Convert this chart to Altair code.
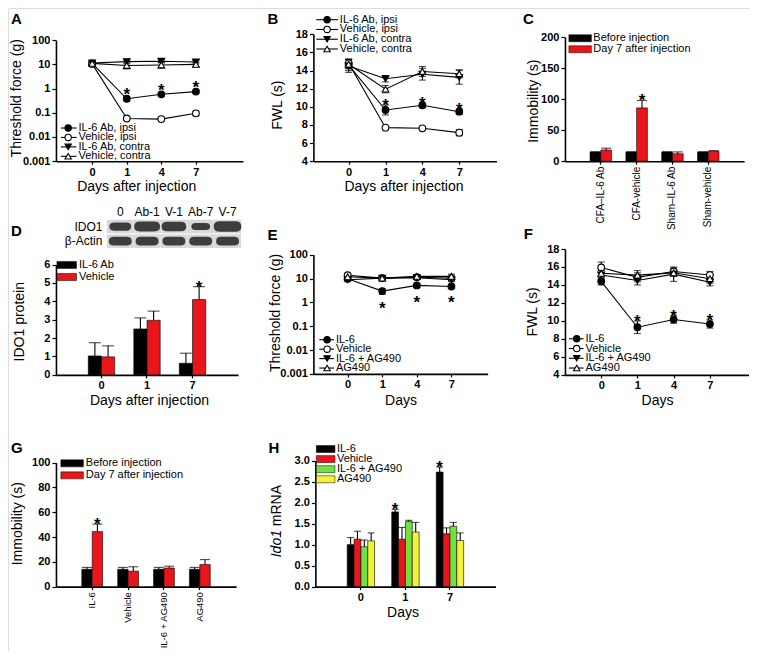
import altair as alt
import pandas as pd

W, H = 741, 643
SX, SY = W / 757, H / 659


def PX(v):
    return v * SX


def PY(v):
    return v * SY


FONT = "Liberation Sans"
RED = "#e8161b"
GREEN = "#72e03e"
YELLOW = "#f3f13c"

# ---------------- data ----------------
line_days = ["0", "1", "4", "7"]
bar_days = ["0", "1", "7"]

# A: threshold force (g), log scale
A_series = ["IL-6 Ab, ipsi", "Vehicle, ipsi", "IL-6 Ab, contra", "Vehicle, contra"]
A_il6_ipsi = [11.0, 0.38, 0.58, 0.75]
A_il6_ipsi_err = [1.5, 0.08, 0.10, 0.12]
A_veh_ipsi = [10.5, 0.058, 0.055, 0.095]
A_veh_ipsi_err = [1.5, 0.004, 0.004, 0.02]
A_il6_contra = [11.5, 13.0, 13.5, 12.5]
A_il6_contra_err = [1.5, 2.5, 2.0, 2.0]
A_veh_contra = [11.0, 9.0, 9.5, 10.0]
A_veh_contra_err = [1.5, 2.5, 2.5, 2.0]
A_sig = [[1, 2, 3], [], [], []]

# B: FWL (s)
B_series = A_series
B_il6_ipsi = [14.6, 9.65, 10.17, 9.46]
B_il6_ipsi_err = [0.6, 0.55, 0.25, 0.3]
B_veh_ipsi = [14.8, 7.7, 7.63, 7.15]
B_veh_ipsi_err = [0.5, 0.15, 0.12, 0.35]
B_il6_contra = [14.5, 13.1, 13.6, 13.25]
B_il6_contra_err = [0.7, 0.35, 0.65, 0.75]
B_veh_contra = [14.7, 11.95, 13.9, 13.65]
B_veh_contra_err = [0.5, 0.4, 0.55, 0.45]
B_sig = [[1, 2, 3], [], [], []]

# C: immobility (s)
C_groups = ["CFA\u2013IL-6 Ab", "CFA-vehicle", "Sham\u2013IL-6 Ab", "Sham-vehicle"]
C_series = ["Before injection", "Day 7 after injection"]
C_before = [15.0, 15.0, 15.0, 15.0]
C_before_err = [0.0, 0.0, 0.0, 0.0]
C_day7 = [18.0, 86.0, 12.0, 16.0]
C_day7_err = [3.0, 12.0, 3.0, 1.0]
C_sig = [[], [1]]

# D: IDO1 protein
D_series = ["IL-6 Ab", "Vehicle"]
D_il6ab = [1.03, 2.5, 0.63]
D_il6ab_err = [0.72, 0.6, 0.55]
D_vehicle = [0.98, 2.97, 4.1]
D_vehicle_err = [0.6, 0.5, 0.7]
D_sig = [[], [2]]
blot_lanes = ["0", "Ab-1", "V-1", "Ab-7", "V-7"]
blot_rows = ["IDO1", "\u03b2-Actin"]
blot_ido1 = [0.75, 1.05, 0.95, 0.55, 1.2]
blot_actin = [0.82, 0.82, 0.82, 0.82, 0.82]

# E: threshold force (g), log scale
E_series = ["IL-6", "Vehicle", "IL-6 + AG490", "AG490"]
E_il6 = [10.0, 3.0, 5.2, 4.7]
E_il6_err = [1.5, 0.8, 1.0, 0.8]
E_vehicle = [14.0, 10.5, 11.5, 10.5]
E_vehicle_err = [2.0, 1.5, 1.5, 1.5]
E_il6ag = [9.0, 10.5, 11.0, 9.0]
E_il6ag_err = [1.5, 1.5, 1.5, 1.5]
E_ag = [12.0, 10.5, 12.5, 12.5]
E_ag_err = [2.0, 1.5, 2.0, 3.0]
E_sig = [[1, 2, 3], [], [], []]

# F: FWL (s)
F_series = E_series
F_il6 = [14.4, 9.3, 10.15, 9.65]
F_il6_err = [0.4, 0.7, 0.4, 0.45]
F_vehicle = [15.95, 14.85, 15.5, 15.1]
F_vehicle_err = [0.6, 0.5, 0.4, 0.4]
F_il6ag = [15.1, 14.5, 15.2, 14.3]
F_il6ag_err = [0.5, 0.5, 0.8, 0.4]
F_ag = [15.3, 15.1, 15.35, 14.7]
F_ag_err = [0.5, 0.5, 0.4, 0.5]
F_sig = [[1, 2, 3], [], [], []]

# G: immobility (s)
G_groups = ["IL-6", "Vehicle", "IL-6 + AG490", "AG490"]
G_series = C_series
G_before = [14.0, 14.0, 14.0, 14.0]
G_before_err = [1.5, 1.5, 1.5, 1.5]
G_day7 = [44.4, 12.5, 15.0, 17.8]
G_day7_err = [6.0, 3.5, 1.5, 4.0]
G_sig = [[], [0]]

# H: Ido1 mRNA
H_series = ["IL-6", "Vehicle", "IL-6 + AG490", "AG490"]
H_il6 = [1.0, 1.78, 2.73]
H_il6_err = [0.17, 0.06, 0.12]
H_vehicle = [1.13, 1.13, 1.26]
H_vehicle_err = [0.19, 0.28, 0.14]
H_il6ag = [0.95, 1.55, 1.44]
H_il6ag_err = [0.16, 0.03, 0.09]
H_ag = [1.09, 1.30, 1.10]
H_ag_err = [0.19, 0.23, 0.18]
H_sig = [[1, 2], [], [], []]

LINE_SHAPES = ["circle", "circle", "triangle-down", "triangle-up"]
LINE_FILLS = ["black", "white", "black", "white"]


# ---------------- helpers ----------------
def axis_common():
    return dict(grid=False, domainColor="black", domainWidth=1.6, tickColor="black",
                tickWidth=1.2, labelFont=FONT, labelFontSize=11, labelFontWeight="bold",
                labelColor="black", labelPadding=2, titleFont=FONT, titleFontSize=14,
                titleFontWeight="normal", titleColor="black", labelFlush=False,
                labelOverlap=False)


def x_axis(axis_y, title=None, tpos=None, **kw):
    d = axis_common()
    d.update(orient="bottom", offset=PY(axis_y) - H, tickSize=3)
    if title:
        d.update(title=title, titleX=PX(tpos[0]), titleY=PY(tpos[1]) - PY(axis_y),
                 titleAlign="center", titleBaseline="middle")
    else:
        d.update(title=None)
    d.update(kw)
    return alt.Axis(**d)


def y_axis(axis_x, title=None, tpos=None, **kw):
    d = axis_common()
    d.update(orient="left", offset=-PX(axis_x), tickSize=4)
    if title:
        d.update(title=title, titleX=PX(tpos[0]) - PX(axis_x), titleY=PY(tpos[1]),
                 titleAngle=270, titleAlign="center", titleBaseline="middle")
    else:
        d.update(title=None)
    d.update(kw)
    return alt.Axis(**d)


def line_frame(series, means, errs, sig):
    rows = []
    for s, m, e, g in zip(series, means, errs, sig):
        for i in range(len(m)):
            rows.append({"series": s, "idx": i, "mean": m[i], "lo": m[i] - e[i],
                         "hi": m[i] + e[i], "sig": i in g})
    return pd.DataFrame(rows)


def bar_frame(groups, series, means, errs, sig):
    rows = []
    for s, m, e, g in zip(series, means, errs, sig):
        for i, grp in enumerate(groups):
            rows.append({"group": grp, "series": s, "mean": m[i], "hi": m[i] + e[i],
                         "sig": i in g})
    return pd.DataFrame(rows)


STAR = dict(text="*", font=FONT, fontSize=17, fontWeight="bold", color="black")


def line_panel(df, series, x_rng, x_dom, axis_y, y_rng, y_dom, log, y_vals, axis_x,
               x_title, x_tpos, y_title, y_tpos, star_field, star_dy, y_fmt):
    xs = alt.Scale(domain=x_dom, range=[PX(x_rng[0]), PX(x_rng[1])], nice=False, zero=False)
    if log:
        ys = alt.Scale(type="log", domain=y_dom, range=[PY(y_rng[0]), PY(y_rng[1])], nice=False)
    else:
        ys = alt.Scale(domain=y_dom, range=[PY(y_rng[0]), PY(y_rng[1])], nice=False, zero=False)
    lab = "[" + ",".join("'%s'" % d for d in line_days) + "][datum.value]"
    xax = x_axis(axis_y, x_title, x_tpos, values=list(range(len(line_days))), labelExpr=lab)
    yax = y_axis(axis_x, y_title, y_tpos, values=y_vals, format=y_fmt)
    X = alt.X("idx:Q", scale=xs, axis=xax)

    def Y(f):
        return alt.Y(f + ":Q", scale=ys, axis=yax)

    base = alt.Chart(df)
    rules = base.mark_rule(color="black", strokeWidth=1.1).encode(x=X, y=Y("lo"), y2="hi:Q")
    cap_lo = base.mark_tick(orient="horizontal", size=7, thickness=1.1, color="black").encode(x=X, y=Y("lo"))
    cap_hi = base.mark_tick(orient="horizontal", size=7, thickness=1.1, color="black").encode(x=X, y=Y("hi"))
    line = base.mark_line(color="black", strokeWidth=1.1).encode(x=X, y=Y("mean"), detail="series:N")
    pts = base.mark_point(filled=True, size=45, opacity=1, stroke="black", strokeWidth=1.1).encode(
        x=X, y=Y("mean"),
        shape=alt.Shape("series:N", scale=alt.Scale(domain=series, range=LINE_SHAPES), legend=None),
        fill=alt.Fill("series:N", scale=alt.Scale(domain=series, range=LINE_FILLS), legend=None),
    )
    stars = base.transform_filter("datum.sig").mark_text(dy=star_dy, **STAR).encode(
        x=X, y=Y(star_field))
    return alt.layer(rules, cap_lo, cap_hi, line, pts, stars)


def bar_panel(df, groups, series, colors, x_rng, pin, pout, axis_y, y_rng, y_dom, y_vals,
              axis_x, y_title, y_tpos, cap, star_dy, xax, y_fmt):
    xs = alt.Scale(domain=groups, range=[PX(x_rng[0]), PX(x_rng[1])],
                   paddingInner=pin, paddingOuter=pout)
    ys = alt.Scale(domain=y_dom, range=[PY(y_rng[0]), PY(y_rng[1])], nice=False)
    yax = y_axis(axis_x, y_title, y_tpos, values=y_vals, format=y_fmt)
    X = alt.X("group:N", scale=xs, axis=xax, sort=groups)
    XO = alt.XOffset("series:N", scale=alt.Scale(domain=series), sort=series)

    def Y(f):
        return alt.Y(f + ":Q", scale=ys, axis=yax)

    base = alt.Chart(df)
    bars = base.mark_bar(stroke="black", strokeWidth=0.6).encode(
        x=X, xOffset=XO, y=Y("mean"),
        fill=alt.Fill("series:N", scale=alt.Scale(domain=series, range=colors), legend=None),
    )
    rules = base.mark_rule(color="black", strokeWidth=1.1).encode(x=X, xOffset=XO, y=Y("mean"), y2="hi:Q")
    caps = base.mark_tick(orient="horizontal", size=cap, thickness=1.1, color="black").encode(
        x=X, xOffset=XO, y=Y("hi"))
    stars = base.transform_filter("datum.sig").mark_text(dy=star_dy, **STAR).encode(
        x=X, xOffset=XO, y=Y("hi"))
    return alt.layer(bars, rules, caps, stars)


def legend_line(labels, y0, y1, xa, xb, xc, xt):
    df = pd.DataFrame({"label": labels})
    yenc = alt.Y("label:N", scale=alt.Scale(type="point", domain=labels,
                                            range=[PY(y0), PY(y1)], padding=0), axis=None)
    base = alt.Chart(df)
    rule = base.mark_rule(color="black", strokeWidth=1.1).encode(
        x=alt.value(PX(xa)), x2=alt.value(PX(xb)), y=yenc)
    pts = base.mark_point(filled=True, size=40, opacity=1, stroke="black", strokeWidth=1.1).encode(
        x=alt.value(PX(xc)), y=yenc,
        shape=alt.Shape("label:N", scale=alt.Scale(domain=labels, range=LINE_SHAPES), legend=None),
        fill=alt.Fill("label:N", scale=alt.Scale(domain=labels, range=LINE_FILLS), legend=None),
    )
    txt = base.mark_text(align="left", baseline="middle", font=FONT, fontSize=11, color="black").encode(
        x=alt.value(PX(xt)), y=yenc, text="label:N")
    return alt.layer(rule, pts, txt)


def legend_bar(labels, colors, y0, y1, xc, w, xt):
    df = pd.DataFrame({"label": labels})
    yenc = alt.Y("label:N", scale=alt.Scale(type="point", domain=labels,
                                            range=[PY(y0), PY(y1)], padding=0), axis=None)
    base = alt.Chart(df)
    sw = base.mark_tick(orient="horizontal", size=PX(w), thickness=7, stroke="black",
                        strokeWidth=0.5, opacity=1).encode(
        x=alt.value(PX(xc)), y=yenc,
        color=alt.Color("label:N", scale=alt.Scale(domain=labels, range=colors), legend=None))
    txt = base.mark_text(align="left", baseline="middle", font=FONT, fontSize=11, color="black").encode(
        x=alt.value(PX(xt)), y=yenc, text="label:N")
    return alt.layer(sw, txt)


def label(text, x, y, size=15, weight="bold", style="normal", angle=0, align="left",
          baseline="alphabetic"):
    return alt.Chart(alt.Data(values=[{}])).mark_text(
        text=text, font=FONT, fontSize=size, fontWeight=weight, fontStyle=style,
        angle=angle, align=align, baseline=baseline, color="black"
    ).encode(x=alt.value(PX(x)), y=alt.value(PY(y)))


# ---------------- panels ----------------
dfA = line_frame(A_series, [A_il6_ipsi, A_veh_ipsi, A_il6_contra, A_veh_contra],
                 [A_il6_ipsi_err, A_veh_ipsi_err, A_il6_contra_err, A_veh_contra_err], A_sig)
pA = line_panel(dfA, A_series, [49, 240], [-1.047, 4.36], 157, [157, 33], [0.001, 100], True,
                [0.001, 0.01, 0.1, 1, 10, 100], 49, "Days after injection", (131, 183),
                "Threshold force (g)", (9, 92), "hi", -2, "~g")

dfB = line_frame(B_series, [B_il6_ipsi, B_veh_ipsi, B_il6_contra, B_veh_contra],
                 [B_il6_ipsi_err, B_veh_ipsi_err, B_il6_contra_err, B_veh_contra_err], B_sig)
pB = line_panel(dfB, B_series, [312, 499], [-0.956, 4.009], 157, [157, 27], [4, 18], False,
                list(range(4, 19, 2)), 312, "Days after injection", (404, 183),
                "FWL (s)", (275, 99), "hi", 1, "d")

dfC = bar_frame(C_groups, C_series, [C_before, C_day7], [C_before_err, C_day7_err], C_sig)
pC = bar_panel(dfC, C_groups, C_series, ["black", RED], [569, 752], 0.4, 0.7, 157, [157, 30],
               [0, 200], [0, 50, 100, 150, 200], 569, "Immobility (s)", (537, 95), 10, 1,
               x_axis(157, labelAngle=270, labelAlign="right", labelBaseline="middle",
                      labelFontWeight="normal", labelFontSize=10), "d")

dfD = bar_frame(bar_days, D_series, [D_il6ab, D_vehicle], [D_il6ab_err, D_vehicle_err], D_sig)
pD = bar_panel(dfD, bar_days, D_series, ["black", RED], [49, 235], 0.42, 0.71, 376, [376, 263],
               [0, 6], list(range(0, 7)), 49, "IDO1 protein", (12, 321), 12, 1,
               x_axis(376, "Days after injection", (144, 402), labelAngle=0), "d")

dfE = line_frame(E_series, [E_il6, E_vehicle, E_il6ag, E_ag],
                 [E_il6_err, E_vehicle_err, E_il6ag_err, E_ag_err], E_sig)
pE = line_panel(dfE, E_series, [312, 490], [-0.99, 4.047], 375, [375, 253], [0.001, 100], True,
                [0.001, 0.01, 0.1, 1, 10, 100], 312, "Days", (401, 402),
                "Threshold force (g)", (273, 312), "lo", 15, "~g")

dfF = line_frame(F_series, [F_il6, F_vehicle, F_il6ag, F_ag],
                 [F_il6_err, F_vehicle_err, F_il6ag_err, F_ag_err], F_sig)
pF = line_panel(dfF, F_series, [569, 757], [-1.0, 4.08], 376, [376, 247], [4, 18], False,
                list(range(4, 19, 2)), 569, "Days", (663, 402), "FWL (s)", (536, 311), "hi", 1, "d")

dfG = bar_frame(G_groups, G_series, [G_before, G_day7], [G_before_err, G_day7_err], G_sig)
pG = bar_panel(dfG, G_groups, G_series, ["black", RED], [49, 233], 0.42, 0.72, 593, [593, 466],
               [0, 100], [0, 20, 40, 60, 80, 100], 49, "Immobility (s)", (10, 528), 10, 1,
               x_axis(593, labelAngle=270, labelAlign="right", labelBaseline="middle",
                      labelFontWeight="normal", labelFontSize=9.5), "d")

dfH = bar_frame(bar_days, H_series, [H_il6, H_vehicle, H_il6ag, H_ag],
                [H_il6_err, H_vehicle_err, H_il6ag_err, H_ag_err], H_sig)
pH = bar_panel(dfH, bar_days, H_series, ["black", RED, GREEN, YELLOW], [314, 498], 0.385, 0.715,
               593, [593, 464], [0, 3], [0, 0.5, 1, 1.5, 2, 2.5, 3], 314, None, None, 7, 1,
               x_axis(593, "Days", (403, 620), labelAngle=0), ".1f")

# western blot (panel D inset)
blot_df = pd.DataFrame(
    [{"lane": l, "row": blot_rows[0], "inten": v} for l, v in zip(blot_lanes, blot_ido1)]
    + [{"lane": l, "row": blot_rows[1], "inten": v} for l, v in zip(blot_lanes, blot_actin)]
)
bx = alt.X("lane:N", sort=blot_lanes,
           scale=alt.Scale(domain=blot_lanes, range=[PX(101), PX(238)], paddingInner=0, paddingOuter=0),
           axis=alt.Axis(orient="top", offset=-PY(217), domain=False, ticks=False, labelFont=FONT,
                         labelFontSize=12, labelFontWeight="normal", labelColor="black",
                         labelPadding=1, labelAngle=0, title=None, grid=False))
by = alt.Y("row:N", sort=blot_rows,
           scale=alt.Scale(domain=blot_rows, range=[PY(217), PY(246)], paddingInner=0.07, paddingOuter=0),
           axis=alt.Axis(orient="left", offset=-PX(98), domain=False, ticks=False, labelFont=FONT,
                         labelFontSize=12, labelFontWeight="normal", labelColor="black",
                         labelPadding=2, title=None, grid=False))
BAND = "M-1,0 Q-1,-0.38 -0.55,-0.38 L0.55,-0.38 Q1,-0.38 1,0 Q1,0.38 0.55,0.38 L-0.55,0.38 Q-1,0.38 -1,0 Z"
strip = alt.Chart(blot_df).mark_rect(color="#d8d8d8").encode(x=bx, y=by)
bands = alt.Chart(blot_df).mark_point(shape=BAND, filled=True, color="#303030", opacity=0.92).encode(
    x=bx, y=by, size=alt.Size("inten:Q", scale=alt.Scale(domain=[0, 1], range=[0, 640]), legend=None))
blot = alt.layer(strip, bands)

# legends
lA = legend_line(A_series, 123, 152, 54, 70, 61.5, 72)
lB = legend_line(B_series, 12, 42, 315, 337, 326, 339)
lE = legend_line(E_series, 340, 369, 318, 333, 326, 335)
lF = legend_line(F_series, 339, 369, 573, 588, 581, 590)
lC = legend_bar(C_series, ["black", RED], 31, 42.3, 584.5, 23, 598)
lD = legend_bar(D_series, ["black", RED], 263.3, 275.7, 60, 20, 72.5)
lG = legend_bar(G_series, ["black", RED], 466.7, 479, 65.5, 23, 79.5)
lH = legend_bar(H_series, ["black", RED, GREEN, YELLOW], 452, 483, 324.5, 19, 336)

letters = [label("A", 3, 16), label("B", 265, 16), label("C", 526, 16), label("D", 3, 234),
           label("E", 265, 238), label("F", 527, 237), label("G", 3, 456), label("H", 266, 456)]
h_title = [label("Ido1", 275, 549, size=14, weight="normal", style="italic", angle=270,
                 align="center", baseline="middle"),
           label("mRNA", 275, 510, size=14, weight="normal", angle=270, align="center",
                 baseline="middle")]

chart = alt.layer(
    pA, pB, pC, pD, pE, pF, pG, pH, blot, lA, lB, lC, lD, lE, lF, lG, lH, *letters, *h_title
).resolve_scale(
    x="independent", y="independent", xOffset="independent", fill="independent",
    shape="independent", size="independent", color="independent"
).resolve_axis(x="independent", y="independent").properties(
    width=W, height=H, padding=0, autosize=alt.AutoSizeParams(type="none"), background="white"
).configure_view(strokeWidth=0).configure(font=FONT)

chart.save("out.html", embed_options={"renderer": "svg", "actions": False})
